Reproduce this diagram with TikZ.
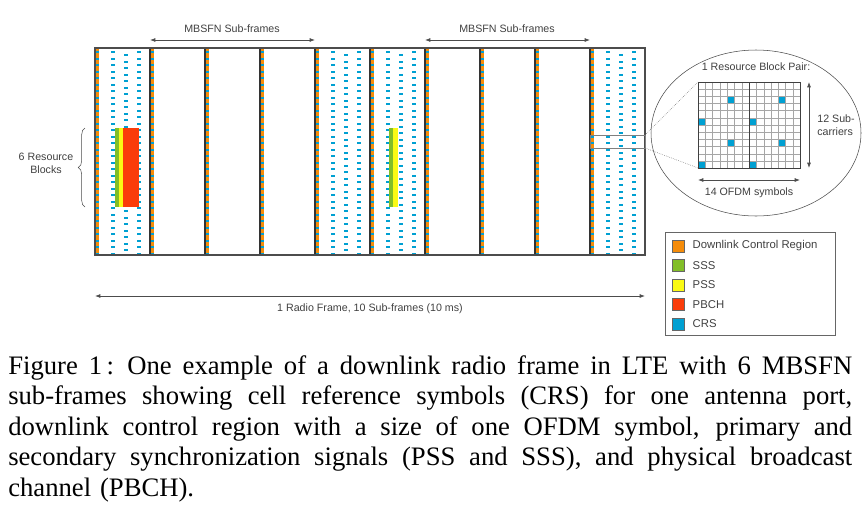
\documentclass[tikz,border=0pt]{standalone}
\usepackage{fontspec}
\setmainfont{Liberation Serif}
\newfontfamily\lbl{Liberation Sans}
\usetikzlibrary{decorations.pathreplacing,arrows.meta}
\definecolor{ctrl}{RGB}{245,140,10}
\definecolor{sss}{RGB}{130,190,40}
\definecolor{pss}{RGB}{250,250,20}
\definecolor{pbch}{RGB}{250,60,10}
\definecolor{crs}{RGB}{0,160,210}
\newcommand\capline[1]{\hbox to 633pt{\spaceskip=.15em plus 1fil\relax #1}}
\tikzset{
  lab/.style={font=\lbl\fontsize{8}{9.5}\selectfont,text=black!75},
  dim/.style={{Latex[length=4pt,width=3pt]}-{Latex[length=4pt,width=3pt]},black!70,line width=0.6pt},
  key/.style={draw=black!60,minimum size=9pt,inner sep=0pt}
}
\begin{document}
\begin{tikzpicture}[x=0.75pt,y=-0.75pt]
\useasboundingbox (0,0) rectangle (867,515);
% control region strips and subframe borders
\foreach \s in {0,...,9}{
  \fill[ctrl] (95+55*\s,48) rectangle ++(4,207);
  \foreach \k in {0,...,31}
    \fill[crs] (95+55*\s,51+6.5*\k) rectangle ++(4,2);
}
% CRS in normal subframes
\foreach \s in {0,4,5,9}{
  \foreach \k in {0,...,31}{
    \fill[crs] (111+55*\s,51+6.5*\k) rectangle ++(4,2);
    \fill[crs] (137+55*\s,51+6.5*\k) rectangle ++(4,2);
  }
  \foreach \k in {0,...,30}
    \fill[crs] (124+55*\s,54+6.5*\k) rectangle ++(4,2);
}
% sync and broadcast
\fill[sss] (115,128) rectangle (119,207);
\fill[pss] (119,128) rectangle (123,207);
\fill[pbch] (123,128) rectangle (139,207);
\fill[sss] (389,128) rectangle (393,207);
\fill[pss] (393,128) rectangle (398,207);
\foreach \s in {1,...,9}
  \draw[black!80,line width=1.2pt] (95+55*\s,48) -- (95+55*\s,255);
\draw[black!70,line width=1pt] (95,48) rectangle (645,255);
% dimensions
\draw[dim] (150,40) -- (315,40);
\node[lab] (mb1) at (232,29) {MBSFN Sub-frames};
\draw[dim] (425,40) -- (590,40);
\node[lab] (mb2) at (507,29) {MBSFN Sub-frames};
\draw[dim] (95,296) -- (645,296);
\node[lab] (rf) at (370,309) {1 Radio Frame, 10 Sub-frames (10 ms)};
\draw[black!70,decorate,decoration={brace,amplitude=5pt}] (85,207) -- (85,128);
\node[lab,align=center] (rb) at (46,163) {6 Resource\\Blocks};
% zoomed resource block pair
\draw[black!50] (590,135) rectangle (645,148);
\draw[black!70,fill=white] (756,133) ellipse (105 and 83);
\draw[black!60,densely dotted] (645,135) -- (698,82);
\draw[black!60,densely dotted] (645,148) -- (698,168);
\foreach \c/\r in {4/2,11/2,0/5,7/5,4/8,11/8,0/11,7/11}
  \fill[crs] (698+7.3*\c,82+7.17*\r) rectangle ++(7.3,7.17);
\foreach \c in {1,...,13}
  \draw[black!35,line width=0.3pt] (698+7.3*\c,82) -- ++(0,86);
\foreach \r in {1,...,11}
  \draw[black!35,line width=0.3pt] (698,82+7.17*\r) -- ++(102.2,0);
\draw[black!75,line width=0.8pt] (749.1,82) -- (749.1,168);
\draw[black!75,line width=0.6pt] (698,82) rectangle (800.2,168);
\node[lab] (rbp) at (756,67) {1 Resource Block Pair:};
\draw[dim] (809,82) -- (809,168);
\node[lab,align=left] (sc) at (836,125) {12 Sub-\\carriers};
\draw[dim] (698,180) -- (800,180);
\node[lab] (sym) at (749,193) {14 OFDM symbols};
% legend
\draw[black!60] (665,232) rectangle (835,335);
\foreach \i/\col/\txt in {0/ctrl/Downlink Control Region,1/sss/SSS,2/pss/PSS,3/pbch/PBCH,4/crs/CRS}{
  \node[key,fill=\col] (k\i) at (678,246+19.5*\i) {};
  \node[lab,anchor=west,font=\lbl\fontsize{8.5}{10}\selectfont] (t\i) at (688,246+19.5*\i) {\txt};
}
% caption
\node[anchor=north west,text width=633pt,align=left,inner sep=0pt,font=\fontsize{20}{22.9}\selectfont] (cap) at (8,355)
{\capline{Figure 1\,: One example of a downlink radio frame in LTE with 6 MBSFN}
\capline{sub-frames showing cell reference symbols (CRS) for one antenna port,}
\capline{downlink control region with a size of one OFDM symbol, primary and}
\capline{secondary synchronization signals (PSS and SSS), and physical broadcast}
channel (PBCH).};
\end{tikzpicture}
\end{document}
